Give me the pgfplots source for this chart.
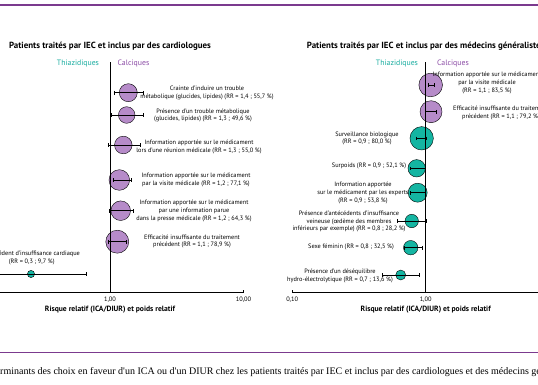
\documentclass[border=0pt]{standalone}
\usepackage{pgfplots}
\pgfplotsset{compat=1.18}
\usepackage{fontspec}
\setmainfont{PT Sans}
\newfontfamily\capfont{Liberation Serif}
\definecolor{purp}{HTML}{B68BC9}
\definecolor{teal2}{HTML}{14B5A2}
\definecolor{thiaz}{HTML}{19ADA0}
\definecolor{calc}{HTML}{8C4DA6}
\definecolor{rulec}{HTML}{7B3A8E}
\pgfplotsset{
  rrpanel/.style={
    scale only axis, xmin=0.1, xmax=10, width=267pt,
    ymin=91.5, ymax=322, height=230.5pt, anchor=south west,
    axis x line*=bottom, axis y line=none, clip=false, clip marker paths=true,
    xtick={0.1,1,10}, xticklabels={{0,10},{1,00},{10,00}},
    xminorticks=false, tick align=inside, major tick length=3pt,
    x axis line style={line width=0.7pt},
    tick style={black, line width=0.6pt},
    xticklabel style={font=\fontsize{6.4}{7}\selectfont, yshift=-0.5pt},
  },
  bp/.style={only marks, mark=*, mark options={draw=none, fill=purp}, mark size=#1},
  bt/.style={only marks, mark=*, mark options={draw=none, fill=teal2}, mark size=#1},
  ebar/.style={black, line width=0.8pt, mark=|, mark size=1.8pt, mark options={solid, line width=0.7pt}},
}
\begin{document}
\begin{tikzpicture}
\path[use as bounding box, clip] (0pt,0pt) rectangle (538pt,384pt);
\fill[white] (0pt,0pt) rectangle (538pt,384pt);
% left panel: cardiologues
\begin{semilogxaxis}[rrpanel, at={(-23.5pt,91.5pt)}]
\addplot[bp=9pt] coordinates {(1.371,291.3)};
\addplot[bp=8.3pt] coordinates {(1.334,269)};
\addplot[bp=8.8pt] coordinates {(1.258,239)};
\addplot[bp=10.3pt] coordinates {(1.174,204)};
\addplot[bp=9.8pt] coordinates {(1.203,173.3)};
\addplot[bp=11.5pt] coordinates {(1.134,142.3)};
\addplot[bt=3.6pt] coordinates {(0.256,110)};
\draw[black, line width=0.7pt] (axis cs:1,91.5) -- (axis cs:1,322);
\addplot[ebar] coordinates {(1.071,291.3) (1.767,291.3)};
\addplot[ebar] coordinates {(1.03,269) (1.767,269)};
\addplot[ebar] coordinates {(0.966,239) (1.677,239)};
\addplot[ebar] coordinates {(1.053,204) (1.437,204)};
\addplot[ebar] coordinates {(0.983,173.3) (1.487,173.3)};
\addplot[ebar] coordinates {(0.966,142.3) (1.318,142.3)};
\addplot[ebar] coordinates {(0.07,110) (0.669,110)};
\end{semilogxaxis}
% right panel: generalistes
\begin{semilogxaxis}[rrpanel, at={(292.2pt,91.5pt)}]
\addplot[bp=11.8pt] coordinates {(1.090,299)};
\addplot[bp=11pt] coordinates {(1.096,272.3)};
\addplot[bt=11.7pt] coordinates {(0.933,245.7)};
\addplot[bt=8.7pt] coordinates {(0.856,215.7)};
\addplot[bt=9.5pt] coordinates {(0.871,191.3)};
\addplot[bt=6.7pt] coordinates {(0.786,163)};
\addplot[bt=7.2pt] coordinates {(0.772,136.3)};
\addplot[bt=5pt] coordinates {(0.650,109)};
\draw[black, line width=0.7pt] (axis cs:1,91.5) -- (axis cs:1,322);
\addplot[ebar] coordinates {(1.046,299) (1.154,299)};
\addplot[ebar] coordinates {(0.988,272.3) (1.195,272.3)};
\addplot[ebar] coordinates {(0.846,245.7) (1.017,245.7)};
\addplot[ebar] coordinates {(0.763,215.7) (0.999,215.7)};
\addplot[ebar] coordinates {(0.763,191.3) (0.999,191.3)};
\addplot[ebar] coordinates {(0.617,163) (1.005,163)};
\addplot[ebar] coordinates {(0.688,136.3) (0.950,136.3)};
\addplot[ebar] coordinates {(0.473,109) (0.891,109)};
\end{semilogxaxis}
% titles
\begin{scope}[every node/.style={inner sep=0pt}]
\node[font=\bfseries\fontsize{8.9}{9}\selectfont] at (110pt,338pt) {Patients traités par IEC et inclus par des cardiologues};
\node[font=\bfseries\fontsize{8.9}{9}\selectfont] at (425.7pt,338pt) {Patients traités par IEC et inclus par des médecins généralistes};
\node[font=\fontsize{7.8}{8}\selectfont, text=thiaz] at (78pt,320pt) {Thiazidiques};
\node[font=\fontsize{7.8}{8}\selectfont, text=calc] at (133.5pt,320pt) {Calciques};
\node[font=\fontsize{7.8}{8}\selectfont, text=thiaz] at (397pt,320pt) {Thiazidiques};
\node[font=\fontsize{7.8}{8}\selectfont, text=calc] at (453pt,320pt) {Calciques};
\node[font=\bfseries\fontsize{7.6}{8}\selectfont] at (110pt,74pt) {Risque relatif (ICA/DIUR) et poids relatif};
\node[font=\bfseries\fontsize{7.6}{8}\selectfont] at (425.7pt,74pt) {Risque relatif (ICA/DIUR) et poids relatif};
\end{scope}
% labels
\begin{scope}[every node/.style={inner sep=0pt, align=center, font=\fontsize{6.3}{7.7}\selectfont}]
\node at (207pt,291pt) {Crainte d'induire un trouble\\métabolique (glucides, lipides) (RR = 1,4 ; 55,7 \%)};
\node at (203pt,268.5pt) {Présence d'un trouble métabolique\\(glucides, lipides) (RR = 1,3 ; 49,6 \%)};
\node at (199pt,237pt) {Information apportée sur le médicament\\lors d'une réunion médicale (RR = 1,3 ; 55,0 \%)};
\node at (196pt,204pt) {Information apportée sur le médicament\\par la visite médicale (RR = 1,2 ; 77,1 \%)};
\node at (194pt,173pt) {Information apportée sur le médicament\\par une information parue\\dans la presse médicale (RR = 1,2 ; 64,3 \%)};
\node at (192pt,142.5pt) {Efficacité insuffisante du traitement\\précédent (RR = 1,1 ; 78,9 \%)};
\node at (31.7pt,126pt) {Antécédent d'insuffisance cardiaque\\(RR = 0,3 ; 9,7 \%)};
\node at (487pt,301pt) {Information apportée sur le médicament\\par la visite médicale\\(RR = 1,1 ; 83,5 \%)};
\node at (501pt,271.2pt) {Efficacité insuffisante du traitement\\précédent (RR = 1,1 ; 79,2 \%)};
\node at (367pt,245.5pt) {Surveillance biologique\\(RR = 0,9 ; 80,0 \%)};
\node at (369pt,218.3pt) {Surpoids (RR = 0,9 ; 52,1 \%)};
\node at (363pt,191.2pt) {Information apportée\\sur le médicament par les experts\\(RR = 0,9 ; 53,8 \%)};
\node at (349pt,162.3pt) {Présence d'antécédents d'insuffisance\\veineuse (œdème des membres\\inférieurs par exemple) (RR = 0,8 ; 28,2 \%)};
\node at (351pt,137.3pt) {Sexe féminin (RR = 0,8 ; 32,5 \%)};
\node at (340pt,108.2pt) {Présence d'un déséquilibre\\hydro-électrolytique (RR = 0,7 ; 13,6 \%)};
\end{scope}
% rules and caption
\draw[rulec, line width=1.2pt] (-5pt,379pt) -- (545pt,379pt);
\draw[rulec, line width=1pt] (-5pt,32pt) -- (545pt,32pt);
\node[anchor=base west, inner sep=0pt, font=\capfont\fontsize{10}{11}\selectfont] at (0pt,10pt) {\llap{Déte}rminants des choix en faveur d'un ICA ou d'un DIUR chez les patients traités par IEC et inclus par des cardiologues et des médecins généralistes};
\end{tikzpicture}
\end{document}
